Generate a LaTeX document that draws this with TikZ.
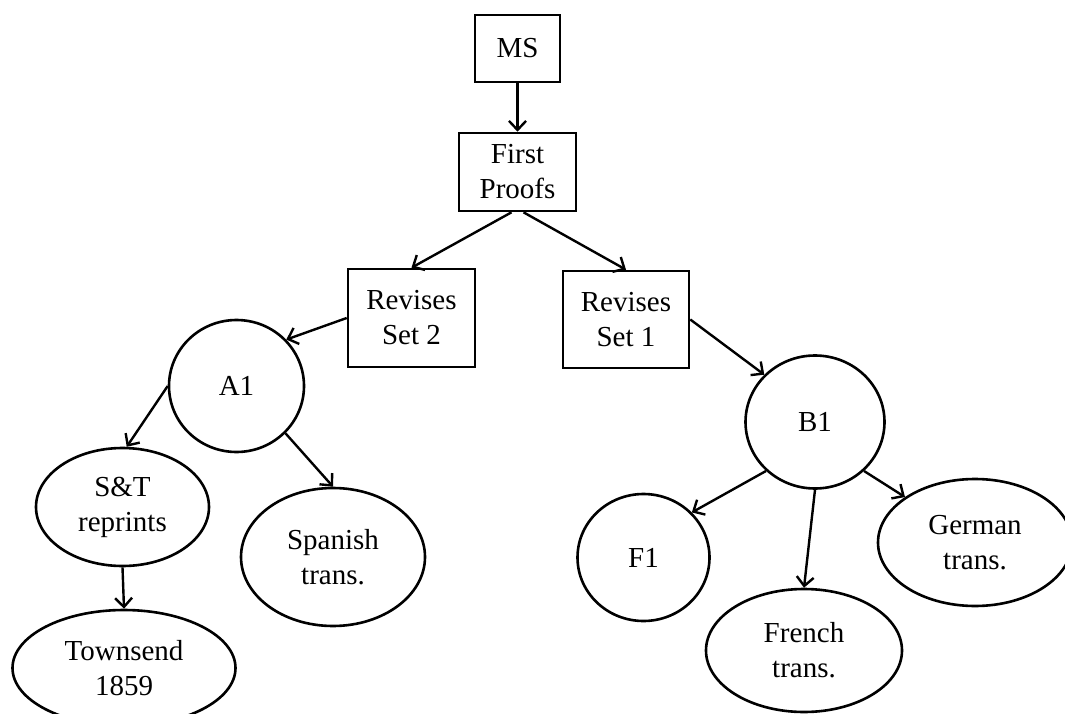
\documentclass[tikz,border=0pt]{standalone}
\usepackage{fontspec}
\setmainfont{Liberation Serif}
\usetikzlibrary{shapes.geometric,arrows.meta}
\begin{document}
\begin{tikzpicture}[x=1pt,y=-1pt,
  every node/.style={font=\fontsize{29}{35}\selectfont, align=center, line width=2.6pt, inner sep=0pt},
  boxnode/.style={draw, rectangle},
  ovalnode/.style={draw, ellipse},
  conn/.style={line width=2.4pt, -{Straight Barb[length=9pt,width=17pt,line width=2.4pt]}}
]
\useasboundingbox (0,0) rectangle (1065,714);
\clip (0,0) rectangle (1065,714);
\fill[white] (0,0) rectangle (1065,714);

\node[boxnode, minimum width=85pt, minimum height=67pt] (ms) at (517.5,48.5) {MS};
\node[boxnode, minimum width=117pt, minimum height=78pt] (fp) at (517.5,172) {First\\Proofs};
\node[boxnode, minimum width=127pt, minimum height=98pt] (r2) at (411.5,318) {Revises\\Set 2};
\node[boxnode, minimum width=126pt, minimum height=97pt] (r1) at (626,319.5) {Revises\\Set 1};

\node[ovalnode, minimum width=135pt, minimum height=132pt] (a1) at (236.5,386) {A1};
\node[ovalnode, minimum width=139pt, minimum height=133pt] (b1) at (815,422) {B1};
\node[ovalnode, minimum width=173pt, minimum height=118pt] (st) at (122.5,507) {S\&T\\reprints};
\node[ovalnode, minimum width=184pt, minimum height=138pt] (sp) at (333,557) {Spanish\\trans.};
\node[ovalnode, minimum width=223pt, minimum height=116pt] (tw) at (124,668) {Townsend\\1859};
\node[ovalnode, minimum width=132pt, minimum height=127pt] (f1) at (643.5,557.5) {F1};
\node[ovalnode, minimum width=196pt, minimum height=123pt] (fr) at (804,650.5) {French\\trans.};
\node[ovalnode, minimum width=194pt, minimum height=127pt] (ge) at (975,542.5) {German\\trans.};

\draw[conn] (ms.south) -- (fp.north);
\draw[conn] ([xshift=-6pt]fp.south) -- (r2.north);
\draw[conn] ([xshift=6pt]fp.south) -- (r1.north);
\draw[conn] (r2.west) -- (a1.43);
\draw[conn] (r1.east) -- (b1.137);
\draw[conn] (a1.180) -- (st.86);
\draw[conn] (a1.-44) -- (sp.north);
\draw[conn] (st.south) -- (tw.north);
\draw[conn] (b1.225) -- (f1.43);
\draw[conn] (b1.south) -- (fr.north);
\draw[conn] (b1.-45) -- (ge.147);
\end{tikzpicture}
\end{document}
